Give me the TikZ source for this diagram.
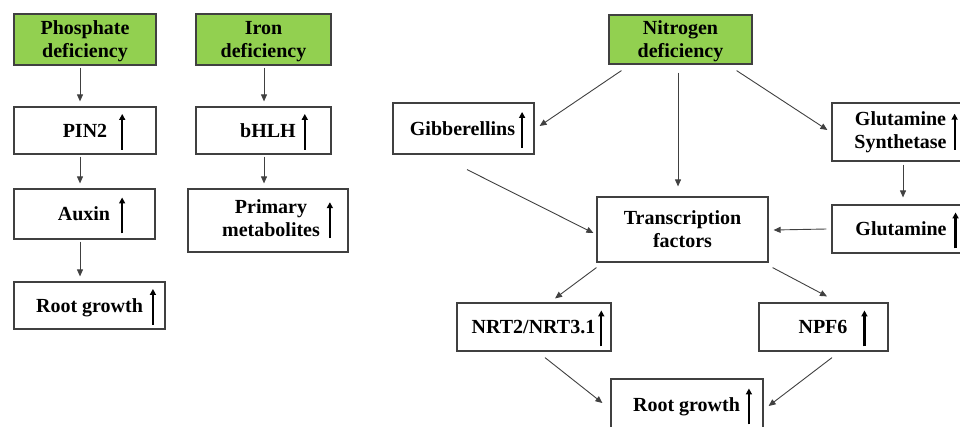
\documentclass[tikz,border=0pt]{standalone}
\usepackage{fontspec}
\setmainfont{Liberation Serif}
\usetikzlibrary{arrows.meta}
\definecolor{leafgreen}{HTML}{92D050}
\definecolor{edgegray}{HTML}{404040}
\tikzset{
  plain box/.style={
    rectangle, draw=edgegray, line width=1.2pt, fill=white, inner sep=0pt,
    font=\fontsize{20}{23}\selectfont\bfseries
  },
  green box/.style={
    plain box, fill=leafgreen, align=center, text depth=0pt
  },
  link/.style={
    draw=edgegray, line width=0.9pt, -{Triangle[length=7pt,width=6pt]}
  }
}
% 上升箭头
\newcommand{\upmark}{%
  \tikz[baseline=-5.5pt]{\path (0,22pt);
    \draw[black, line width=2.2pt, -{Triangle[length=6pt,width=6pt]}] (0,-18pt) -- (0,18pt);}}

\begin{document}
\begin{tikzpicture}[x=1pt, y=-1pt]
\useasboundingbox (0,0) rectangle (960,426);
\clip (0,0) rectangle (960,426);

% 左一列：磷缺乏
\begin{scope}
  \node[green box, minimum width=142pt, minimum height=51pt] (phos)  at (85,39.5)   {Phosphate\\deficiency};
  \node[plain box, minimum width=142pt, minimum height=47pt] (pin)   at (85,130.5)  {\hspace*{18pt}PIN2\hspace{12pt}\upmark};
  \node[plain box, minimum width=141pt, minimum height=50pt] (aux)   at (84.5,214)  {\hspace*{14pt}Auxin\hspace{9pt}\upmark};
  \node[plain box, minimum width=151pt, minimum height=47pt] (rootL) at (89.5,305.5) {\hspace*{13pt}Root growth\hspace{7pt}\upmark};
  \draw[link] ([shift={(-5,2)}]phos.south) -- ([shift={(-5,-5)}]pin.north);
  \draw[link] ([shift={(-5,2)}]pin.south)  -- ([shift={(-4.5,-5)}]aux.north);
  \draw[link] ([shift={(-4.5,2)}]aux.south) -- ([shift={(-9.5,-5)}]rootL.north);
\end{scope}

% 左二列：铁缺乏
\begin{scope}
  \node[green box, minimum width=135pt, minimum height=51pt] (iron) at (263.5,39.5)  {Iron\\deficiency};
  \node[plain box, minimum width=135pt, minimum height=47pt] (bhlh) at (263.5,130.5) {\hspace*{21pt}bHLH\hspace{6pt}\upmark};
  \node[plain box, minimum width=160pt, minimum height=63pt] (prim) at (268,220.5)   {\hspace*{19pt}\begin{tabular}{@{}c@{}}Primary\\metabolites\end{tabular}\hspace{7pt}\upmark};
  \draw[link] ([shift={(0.5,2)}]iron.south) -- ([shift={(0.5,-5)}]bhlh.north);
  \draw[link] ([shift={(0.5,2)}]bhlh.south) -- ([shift={(-4,-5)}]prim.north);
\end{scope}

% 右侧：氮缺乏
\begin{scope}
  \node[green box, minimum width=143pt, minimum height=49pt] (nitro) at (680.5,39.5) {Nitrogen\\deficiency};
  \node[plain box, minimum width=141pt, minimum height=51pt] (gib)   at (463.5,128.5) {\hspace*{8pt}Gibberellins\hspace{4pt}\upmark};
  \node[plain box, minimum width=131pt, minimum height=58pt] (gs)    at (897.5,132)  {\hspace*{17pt}\begin{tabular}{@{}c@{}}Glutamine\\Synthetase\end{tabular}\hspace{5pt}\upmark};
  \node[plain box, minimum width=171pt, minimum height=65pt, align=center] (tf) at (682.5,229.5) {Transcription\\factors};
  \node[plain box, minimum width=131pt, minimum height=48pt] (glu)   at (897.5,229)  {\hspace*{19pt}Glutamine\hspace{6pt}\upmark};
  \node[plain box, minimum width=154pt, minimum height=48pt] (nrt)   at (534,327)    {\hspace*{8pt}NRT2/NRT3.1\hspace{3pt}\upmark};
  \node[plain box, minimum width=129pt, minimum height=48pt] (npf)   at (823.5,327)  {\hspace*{19pt}NPF6\hspace{14pt}\upmark};
  \node[plain box, minimum width=152pt, minimum height=52pt] (rootR) at (687,405)    {\hspace*{11pt}Root growth\hspace{6pt}\upmark};

  \draw[link] ([shift={(13,6)}]nitro.south west)  -- ([shift={(5,-2.5)}]gib.east);
  \draw[link] ([shift={(-2.5,8)}]nitro.south)     -- ([shift={(-4.5,-10)}]tf.north);
  \draw[link] ([shift={(-16,6)}]nitro.south east) -- ([shift={(-4,-2)}]gs.west);
  \draw[link] ([shift={(3.5,15)}]gib.south)       -- ([shift={(-3,3.5)}]tf.west);
  \draw[link] ([shift={(5.5,3)}]gs.south)         -- ([shift={(5.5,-7)}]glu.north);
  \draw[link] ([shift={(-5,0)}]glu.west)          -- ([shift={(5,0.5)}]tf.east);
  \draw[link] ([shift={(0,5)}]tf.south west)      -- ([shift={(21,-4)}]nrt.north);
  \draw[link] ([shift={(4,5)}]tf.south east)      -- ([shift={(3.5,-6)}]npf.north);
  \draw[link] ([shift={(11,6)}]nrt.south)         -- ([shift={(-8,-2)}]rootR.west);
  \draw[link] ([shift={(8.5,6)}]npf.south)        -- ([shift={(5,1)}]rootR.east);
\end{scope}

\end{tikzpicture}
\end{document}
